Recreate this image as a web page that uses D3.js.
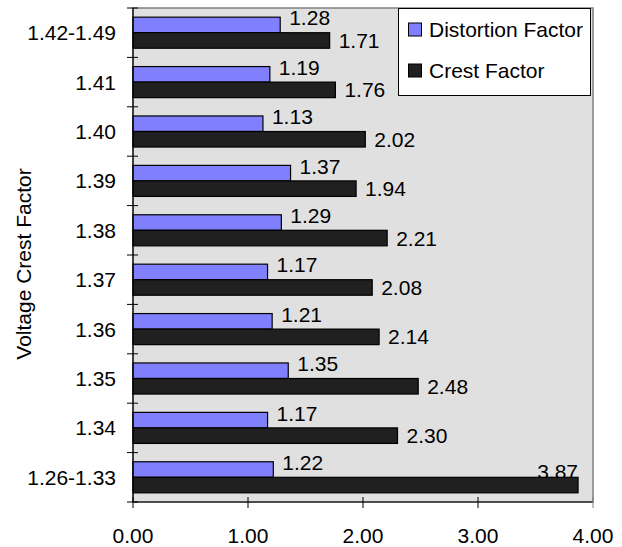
<!DOCTYPE html>
<html>
<head>
<meta charset="utf-8">
<script src="https://cdn.jsdelivr.net/npm/d3@7/dist/d3.min.js"></script>
<style>
  html, body { margin: 0; padding: 0; background: #fff; }
  svg { display: block; font-family: "Liberation Sans", Arial, sans-serif; }
</style>
</head>
<body>
<svg id="chart" width="622" height="547"></svg>
<script>
// Categories, top to bottom
const categories = ["1.42-1.49", "1.41", "1.40", "1.39", "1.38", "1.37", "1.36", "1.35", "1.34", "1.26-1.33"];
const seriesNames = ["Distortion Factor", "Crest Factor"];
const distortionFactor = [1.28, 1.19, 1.13, 1.37, 1.29, 1.17, 1.21, 1.35, 1.17, 1.22];
const crestFactor = [1.71, 1.76, 2.02, 1.94, 2.21, 2.08, 2.14, 2.48, 2.30, 3.87];
const xTicks = [0, 1, 2, 3, 4];
const yTitle = "Voltage Crest Factor";

const seriesValues = [distortionFactor, crestFactor];
const seriesColors = ["#8080ff", "#202020"];

const svg = d3.select("#chart");
const plot = { left: 133, right: 593, top: 8, bottom: 502 };
const fontSize = 21;

const x = d3.scaleLinear().domain([0, 4]).range([plot.left, plot.right]);
const y = d3.scaleBand().domain(categories).range([plot.top, plot.bottom]).padding(0);
const sub = d3.scaleBand().domain(seriesNames).range([0, y.bandwidth()])
  .paddingInner(0).paddingOuter(0.59);

// Plot background and border
svg.append("rect")
  .attr("x", plot.left).attr("y", plot.top)
  .attr("width", plot.right - plot.left).attr("height", plot.bottom - plot.top)
  .attr("fill", "#e0e0e0").attr("stroke", "#808080").attr("stroke-width", 1.5);

// Flatten data
const rows = [];
categories.forEach((c, i) => {
  seriesNames.forEach((s, j) => {
    rows.push({ cat: c, series: s, value: seriesValues[j][i], color: seriesColors[j], idx: j });
  });
});

// Value labels (drawn beneath the bars so an inside-end label tucks under its bar)
const labelGap = 9;
const labels = svg.append("g").attr("font-size", fontSize).attr("fill", "#000");
rows.forEach(d => {
  const top = y(d.cat) + sub(d.series);
  const mid = top + sub.bandwidth() / 2;
  const txt = d.value.toFixed(2);
  const t = labels.append("text").text(txt);
  const w = t.node().getComputedTextLength();
  const xe = x(d.value);
  if (xe + labelGap + w > plot.right) {
    t.attr("x", xe).attr("y", top + 2).attr("text-anchor", "end");
  } else {
    const cy = d.idx === 0 ? mid - 7 : mid;
    t.attr("x", xe + labelGap).attr("y", cy).attr("dy", "0.36em");
  }
});

// Bars
svg.append("g").selectAll("rect").data(rows).join("rect")
  .attr("x", x(0))
  .attr("y", d => y(d.cat) + sub(d.series))
  .attr("width", d => x(d.value) - x(0))
  .attr("height", sub.bandwidth())
  .attr("fill", d => d.color)
  .attr("stroke", "#000").attr("stroke-width", 1.2);

// Y axis: line with crossing ticks at category boundaries
const yAxis = svg.append("g");
yAxis.append("line")
  .attr("x1", plot.left).attr("x2", plot.left)
  .attr("y1", plot.top).attr("y2", plot.bottom)
  .attr("stroke", "#000").attr("stroke-width", 1.2);
const bounds = categories.map(c => y(c)).concat([plot.bottom]);
yAxis.selectAll("line.tick").data(bounds).join("line").attr("class", "tick")
  .attr("x1", plot.left - 6).attr("x2", plot.left + 5)
  .attr("y1", d => d).attr("y2", d => d)
  .attr("stroke", "#000").attr("stroke-width", 1);
yAxis.selectAll("text").data(categories).join("text")
  .attr("x", 116).attr("y", d => y(d) + y.bandwidth() / 2)
  .attr("dy", "0.36em").attr("text-anchor", "end")
  .attr("font-size", fontSize).text(d => d);

// X axis: line with crossing ticks
const xAxis = svg.append("g");
xAxis.append("line")
  .attr("x1", plot.left).attr("x2", plot.right)
  .attr("y1", plot.bottom).attr("y2", plot.bottom)
  .attr("stroke", "#000").attr("stroke-width", 1.2);
xAxis.selectAll("line.tick").data(xTicks).join("line").attr("class", "tick")
  .attr("x1", d => x(d)).attr("x2", d => x(d))
  .attr("y1", plot.bottom - 5).attr("y2", plot.bottom + 6)
  .attr("stroke", d => d === 4 ? "#808080" : "#000").attr("stroke-width", 1);
xAxis.selectAll("text").data(xTicks).join("text")
  .attr("x", d => x(d)).attr("y", 535)
  .attr("dy", "0.36em").attr("text-anchor", "middle")
  .attr("font-size", fontSize).text(d => d.toFixed(2));

// Axis title
svg.append("text")
  .attr("transform", "translate(23,264) rotate(-90)")
  .attr("dy", "0.36em").attr("text-anchor", "middle")
  .attr("font-size", fontSize).text(yTitle);

// Legend
const legend = svg.append("g");
legend.append("rect")
  .attr("x", 398.5).attr("y", 8.5).attr("width", 192).attr("height", 87)
  .attr("fill", "#fff").attr("stroke", "#000").attr("stroke-width", 1);
const legendRows = [29.5, 70.5];
seriesNames.forEach((s, i) => {
  legend.append("rect")
    .attr("x", 408.5).attr("y", legendRows[i] - 6.5).attr("width", 13).attr("height", 13)
    .attr("fill", seriesColors[i]).attr("stroke", "#000").attr("stroke-width", 1);
  legend.append("text")
    .attr("x", 429).attr("y", legendRows[i]).attr("dy", "0.36em")
    .attr("font-size", fontSize).text(s);
});
</script>
</body>
</html>
